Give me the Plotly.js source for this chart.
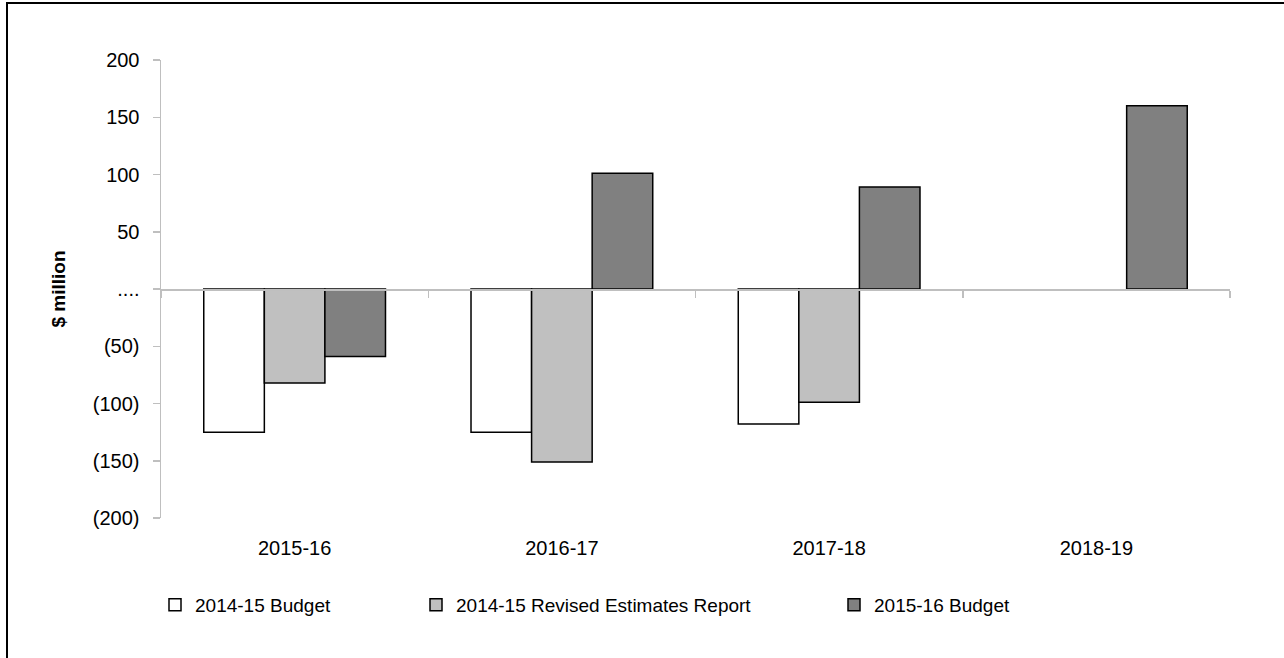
<!DOCTYPE html>
<html>
<head>
<meta charset="utf-8">
<script src="https://cdn.plot.ly/plotly-3.0.1.min.js"></script>
<style>
  html, body { margin: 0; padding: 0; background: #fff; overflow: hidden; }
  #chart { width: 1284px; height: 658px; }
</style>
</head>
<body>
<div id="chart"></div>
<script>
const categories = ["2015-16", "2016-17", "2017-18", "2018-19"];
const budget1415 = [-125, -125, -118, null];
const revised1415 = [-82, -151, -99, null];
const budget1516 = [-59, 101, 89, 160];
const seriesNames = ["2014-15 Budget", "2014-15 Revised Estimates Report", "2015-16 Budget"];
const yTickVals = [-200, -150, -100, -50, 0, 50, 100, 150, 200];
const yTickText = ["(200)", "(150)", "(100)", "(50)", "....", "50", "100", "150", "200"];

const FONT = "Arial, 'Liberation Sans', sans-serif";
const FS = 20;
const axisGrey = "#bfbfbf";
const colors = ["#ffffff", "#c0c0c0", "#808080"];
const seriesVals = [budget1415, revised1415, budget1516];
const legendIds = ["legend", "legend2", "legend3"];

const W = 1284, H = 658;
const M = { l: 161, r: 54, t: 60, b: 140 };
const pw = W - M.l - M.r, ph = H - M.t - M.b;
const px = v => (v - M.l) / pw;           // page pixel -> paper x
const py = v => (H - M.b - v) / ph;       // page pixel -> paper y

const traces = seriesVals.map((vals, i) => ({
  type: "bar",
  name: seriesNames[i],
  x: categories,
  y: vals,
  marker: { color: colors[i], line: { color: "#000000", width: 1.5 } },
  legend: legendIds[i],
  hoverinfo: "x+y+name"
}));

// helper trace so the bottom label axis knows the categories
traces.push({
  type: "scatter",
  mode: "markers",
  x: categories,
  y: categories.map(() => 0),
  xaxis: "x2",
  yaxis: "y",
  marker: { opacity: 0, size: 1 },
  showlegend: false,
  hoverinfo: "skip"
});

const legendBase = {
  orientation: "h",
  yanchor: "middle",
  xanchor: "left",
  y: py(605),
  font: { family: FONT, size: 19, color: "#000" },
  bgcolor: "rgba(0,0,0,0)",
  itemwidth: 30,
  tracegroupgap: 0
};

const layout = {
  width: W,
  height: H,
  margin: M,
  paper_bgcolor: "#ffffff",
  plot_bgcolor: "#ffffff",
  barmode: "group",
  bargap: 0.32,
  bargroupgap: 0,
  font: { family: FONT, size: FS, color: "#000" },
  showlegend: true,
  legend: Object.assign({}, legendBase, { x: px(155) }),
  legend2: Object.assign({}, legendBase, { x: px(416) }),
  legend3: Object.assign({}, legendBase, { x: px(834) }),
  xaxis: {
    type: "category",
    categoryorder: "array",
    categoryarray: categories,
    range: [-0.5, 3.5],
    anchor: "free",
    position: 0.5,
    showline: true,
    linecolor: axisGrey,
    linewidth: 1.5,
    ticks: "outside",
    tickson: "boundaries",
    ticklen: 7,
    tickcolor: axisGrey,
    tickwidth: 1.5,
    showticklabels: false,
    showgrid: false,
    zeroline: false,
    fixedrange: true
  },
  xaxis2: {
    overlaying: "x",
    anchor: "y",
    side: "bottom",
    type: "category",
    categoryorder: "array",
    categoryarray: categories,
    range: [-0.5, 3.5],
    ticks: "",
    showline: false,
    showgrid: false,
    zeroline: false,
    tickfont: { family: FONT, size: FS, color: "#000" },
    ticklabelstandoff: 16,
    fixedrange: true
  },
  yaxis: {
    range: [-200, 200],
    tickmode: "array",
    tickvals: yTickVals,
    ticktext: yTickText,
    showline: true,
    linecolor: axisGrey,
    linewidth: 1.5,
    ticks: "outside",
    ticklen: 7,
    tickcolor: axisGrey,
    tickwidth: 1.5,
    showgrid: false,
    zeroline: false,
    tickfont: { family: FONT, size: FS, color: "#000" },
    ticklabelstandoff: 9,
    title: { text: "<b>$ million</b>", font: { family: FONT, size: 19, color: "#000" }, standoff: 22 },
    fixedrange: true
  },
  shapes: [
    { type: "line", xref: "paper", yref: "paper", x0: px(7), x1: px(7), y0: py(2), y1: py(H),
      line: { color: "#000", width: 2 } },
    { type: "line", xref: "paper", yref: "paper", x0: px(6), x1: px(W), y0: py(3), y1: py(3),
      line: { color: "#000", width: 2 } }
  ]
};

Plotly.newPlot("chart", traces, layout, { displayModeBar: false, staticPlot: true });
</script>
</body>
</html>
